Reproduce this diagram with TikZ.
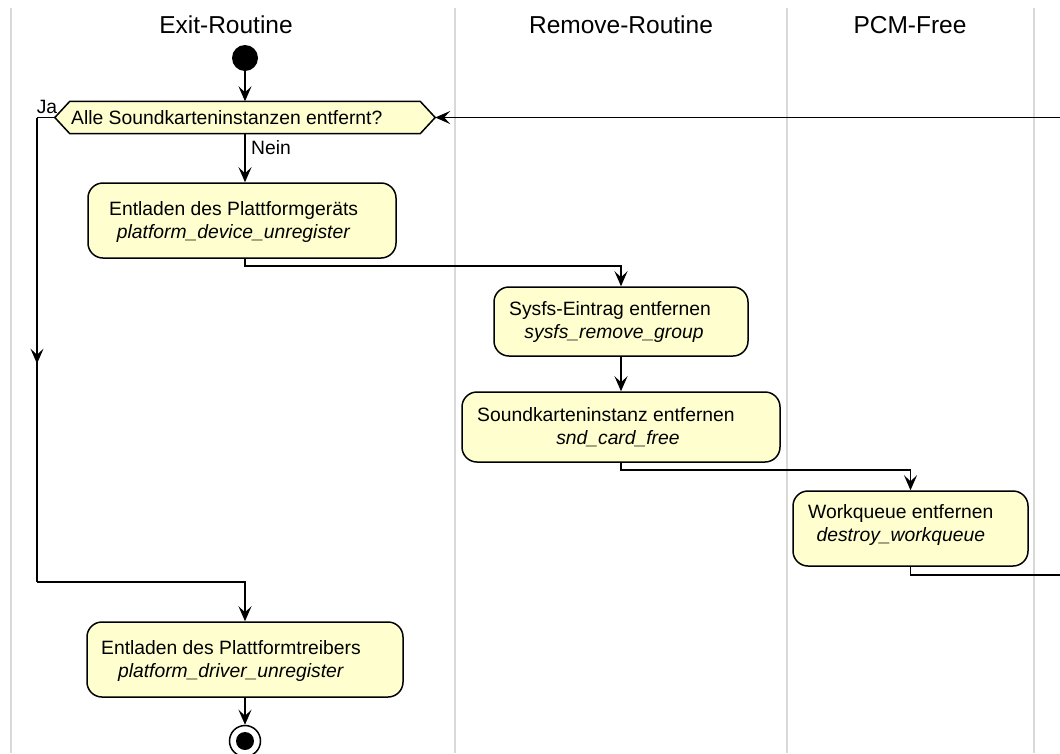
\documentclass[tikz,border=0pt]{standalone}
\usepackage{fontspec}
\setmainfont{Liberation Sans}
\usetikzlibrary{arrows.meta,decorations.markings}
\definecolor{actfill}{HTML}{FEFECE}
\definecolor{lanegray}{HTML}{D9D9D9}

\begin{document}
\begin{tikzpicture}[x=1pt,y=-1pt,
  font=\fontsize{19.3}{23}\selectfont,
  tip/.style={-{Stealth[length=15pt,width=13pt,inset=6pt]}},
  flow/.style={line width=1.5pt, tip},
  plain/.style={line width=1.5pt},
  lane/.style={draw=lanegray, line width=2.5pt},
  header/.style={font=\fontsize{24.5}{28}\selectfont, anchor=base, inner sep=0pt},
  actbox/.style={draw, line width=1.5pt, fill=actfill, rounded corners=15pt, inner sep=0pt},
  acttext/.style={anchor=west, align=center, inner sep=0pt},
  midarrow/.style={postaction={decorate}, decoration={markings,
      mark=at position #1 with {\arrow{Stealth[length=15pt,width=13pt,inset=6pt]}}}},
]
\useasboundingbox (0,0) rectangle (1060,753);

% swimlane separators
\draw[lane] (11,8) -- (11,753);
\draw[lane] (455,8) -- (455,753);
\draw[lane] (787,8) -- (787,753);
\draw[lane] (1034,8) -- (1034,753);

% lane titles
\node[header] (h1) at (226,33) {Exit-Routine};
\node[header] (h2) at (621,33) {Remove-Routine};
\node[header] (h3) at (910,33) {PCM-Free};

% start
\node[circle, fill, minimum size=26pt, inner sep=0pt] (start) at (245,58) {};

% decision
\node[minimum width=380pt, minimum height=32pt, inner sep=0pt] (dec) at (245,117.5) {};
\draw[line width=1.5pt, fill=actfill]
  (dec.west) -- ([xshift=15pt]dec.north west) -- ([xshift=-15pt]dec.north east)
  -- (dec.east) -- ([xshift=-15pt]dec.south east) -- ([xshift=15pt]dec.south west) -- cycle;
\node[anchor=west, inner sep=0pt] (dectext) at (71,117.5) {Alle Soundkarteninstanzen entfernt?};
\node[inner sep=0pt] (ja) at (47,107) {Ja};
\node[anchor=west, inner sep=0pt] (nein) at (251,148) {Nein};

% activities
\node[actbox, minimum width=308pt, minimum height=75pt] (box1) at (242,220.5) {};
\node[acttext] (t1) at (109,222) {Entladen des Plattformgeräts\\\textit{platform\_device\_unregister}};

\node[actbox, minimum width=254pt, minimum height=69pt] (box2) at (621,321.5) {};
\node[acttext] (t2) at (509,322.5) {Sysfs-Eintrag entfernen\\\hspace*{8pt}\textit{sysfs\_remove\_group}};

\node[actbox, minimum width=318pt, minimum height=70pt] (box3) at (621,427) {};
\node[acttext] (t3) at (477,427.5) {Soundkarteninstanz entfernen\\\hspace*{24pt}\textit{snd\_card\_free}};

\node[actbox, minimum width=235pt, minimum height=75pt] (box4) at (910.5,528.5) {};
\node[acttext] (t4) at (808,525.5) {Workqueue entfernen\\\textit{destroy\_workqueue}};

\node[actbox, minimum width=316pt, minimum height=75pt] (box5) at (245,659.5) {};
\node[acttext] (t5) at (101,660.5) {Entladen des Plattformtreibers\\\textit{platform\_driver\_unregister}};

% end
\node[circle, draw, line width=1.5pt, fill=white, minimum size=31pt, inner sep=0pt] (end) at (245,741) {};
\fill (end.center) circle (9pt);

% free ends at the right border
\coordinate (loopIn) at (1060,117.5);
\coordinate (loopOut) at (1060,575);
\coordinate (jaTop) at (37,117.5);
\coordinate (jaBot) at (37,582);

% connectors
\draw[flow] (start) -- (dec.north);
\draw[flow] (dec.south) -- (dec.south |- box1.north);
\draw[flow] (dec.south |- box1.south) -- ++(0,7) -| (box2.north);
\draw[flow] (box2.south) -- (box3.north);
\draw[flow] (box3.south) -- ++(0,7) -| (box4.north);
\draw[plain] (box4.south) -- (box4.south |- loopOut) -- (loopOut);
\draw[flow] (loopIn) -- (dec.east);

\draw[plain] (dec.west) -- (jaTop);
\draw[plain, midarrow=0.53] (jaTop) -- (jaBot);
\draw[flow] (jaBot) -| (box5.north);
\draw[flow] (box5.south) -- (end.north);
\end{tikzpicture}
\end{document}
